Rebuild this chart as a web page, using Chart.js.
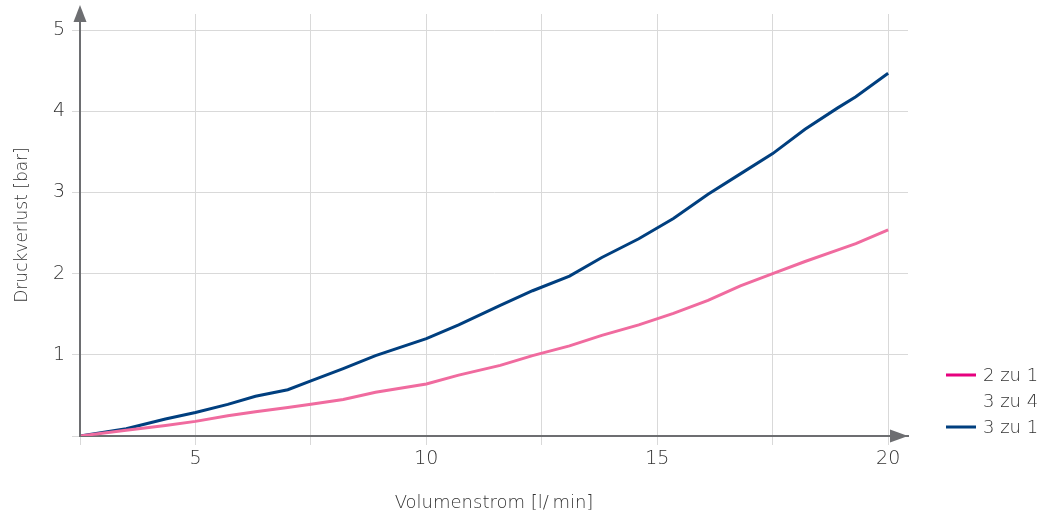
<!DOCTYPE html>
<html>
<head>
<meta charset="utf-8">
<script src="https://cdn.jsdelivr.net/npm/chart.js@4/dist/chart.umd.min.js"></script>
<style>
    html, body { margin: 0; background: #fff; }
    #wrap { width: 1045px; height: 520px; }
</style>
</head>
<body>
<div id="wrap"><canvas id="myChart"></canvas></div>
<script>
// values
const flow     = [2.5, 3.5, 4.35, 5, 5.7, 6.3, 7.0, 7.5, 8.2, 8.9, 10, 10.7, 11.6, 12.3, 13.1, 13.8, 14.6, 15.35, 16.1, 16.8, 17.5, 18.2, 18.9, 19.3, 20];
const loss2zu1 = [0, 0.07, 0.13, 0.18, 0.25, 0.30, 0.35, 0.39, 0.45, 0.54, 0.64, 0.75, 0.87, 0.99, 1.11, 1.24, 1.37, 1.51, 1.67, 1.85, 2.00, 2.15, 2.29, 2.37, 2.54];
const loss3zu4 = [];
const loss3zu1 = [0, 0.09, 0.21, 0.29, 0.39, 0.49, 0.57, 0.68, 0.83, 0.99, 1.20, 1.37, 1.61, 1.79, 1.97, 2.20, 2.43, 2.68, 2.98, 3.23, 3.48, 3.78, 4.04, 4.18, 4.47];
const seriesNames = ['2 zu 1', '3 zu 4', '3 zu 1'];
const xLabels = [5, 10, 15, 20];
const yLabels = [1, 2, 3, 4, 5];

const FONT = "'DejaVu Sans', sans-serif";
const AXIS = '#6d6e71';
const GRID = '#d9d9d9';
const TEXT = '#333';

function toPoints(ys) {
    return ys.map((y, i) => ({ x: flow[i], y: y }));
}

// arrow heads at the end of both axes
const axisArrows = {
    id: 'axisArrows',
    afterDraw(chart) {
        const ctx = chart.ctx;
        const xs = chart.scales.x, ys = chart.scales.y;
        const ox = xs.left, oy = ys.bottom;
        ctx.save();
        ctx.fillStyle = AXIS;
        ctx.strokeStyle = AXIS;
        ctx.lineWidth = 2;
        ctx.beginPath();
        ctx.moveTo(ox, oy);
        ctx.lineTo(ox, ys.top);
        ctx.stroke();
        ctx.beginPath();
        ctx.moveTo(ox - 6.5, ys.top + 8);
        ctx.lineTo(ox + 6.5, ys.top + 8);
        ctx.lineTo(ox, ys.top - 9);
        ctx.closePath();
        ctx.fill();
        ctx.beginPath();
        ctx.moveTo(xs.right - 18, oy - 6.5);
        ctx.lineTo(xs.right - 18, oy + 6.5);
        ctx.lineTo(xs.right, oy);
        ctx.closePath();
        ctx.fill();
        ctx.restore();
    }
};

// legend in the lower right corner
const sideLegend = {
    id: 'sideLegend',
    afterDraw(chart) {
        const ctx = chart.ctx;
        const x0 = chart.chartArea.right + 38;
        let y = 375;
        ctx.save();
        ctx.font = '200 18px ' + FONT;
        ctx.textBaseline = 'middle';
        chart.data.datasets.forEach(ds => {
            if (ds.legendColor) {
                ctx.fillStyle = ds.legendColor;
                ctx.fillRect(x0, y - 1.5, 30, 3);
            }
            ctx.fillStyle = TEXT;
            ctx.fillText(ds.label, x0 + 37, y + 1);
            y += 26;
        });
        ctx.restore();
    }
};

const ctx = document.getElementById('myChart').getContext('2d');
new Chart(ctx, {
    type: 'line',
    data: {
        datasets: [{
            label: seriesNames[0],
            data: toPoints(loss2zu1),
            borderColor: '#f06b9f',
            legendColor: '#e6007e',
            borderWidth: 3,
            pointRadius: 0,
            tension: 0
        }, {
            label: seriesNames[1],
            data: toPoints(loss3zu4),
            borderColor: 'rgba(0,0,0,0)',
            legendColor: null,
            borderWidth: 0,
            pointRadius: 0
        }, {
            label: seriesNames[2],
            data: toPoints(loss3zu1),
            borderColor: '#003f7f',
            legendColor: '#003f7f',
            borderWidth: 3,
            pointRadius: 0,
            tension: 0
        }]
    },
    options: {
        responsive: true,
        maintainAspectRatio: false,
        animation: false,
        layout: { padding: { top: 14, right: 137, left: 0, bottom: 0 } },
        plugins: {
            legend: { display: false },
            tooltip: { enabled: false }
        },
        scales: {
            x: {
                type: 'linear',
                min: 2.5,
                max: 20.43,
                afterFit: s => { s.height = 84; s.paddingLeft = 0; s.paddingRight = 0; },
                grid: { color: GRID, lineWidth: 1, tickLength: 9, tickColor: GRID },
                border: { color: AXIS, width: 2 },
                ticks: {
                    stepSize: 2.5,
                    includeBounds: false,
                    autoSkip: false,
                    maxRotation: 0,
                    padding: 3,
                    color: TEXT,
                    font: { family: FONT, size: 19, weight: '200' },
                    callback: v => xLabels.includes(v) ? String(v) : ''
                },
                title: {
                    display: true,
                    text: 'Volumenstrom [l/\u2009min]',
                    color: TEXT,
                    font: { family: FONT, size: 18, weight: '200' },
                    padding: { top: 0, bottom: 6 }
                }
            },
            y: {
                min: 0,
                max: 5.2,
                afterFit: s => { s.width = 80; s.paddingTop = 0; s.paddingBottom = 0; },
                grid: { color: GRID, lineWidth: 1, tickLength: 8, tickColor: GRID },
                border: { color: AXIS, width: 2 },
                ticks: {
                    stepSize: 1,
                    includeBounds: false,
                    padding: 7,
                    color: TEXT,
                    font: { family: FONT, size: 19, weight: '200' },
                    callback: v => yLabels.includes(v) ? String(v) : ''
                },
                title: {
                    display: true,
                    text: 'Druckverlust [bar]',
                    color: TEXT,
                    font: { family: FONT, size: 17, weight: '200' },
                    padding: { top: 12, bottom: 0 }
                }
            }
        }
    },
    plugins: [axisArrows, sideLegend]
});
</script>
</body>
</html>
